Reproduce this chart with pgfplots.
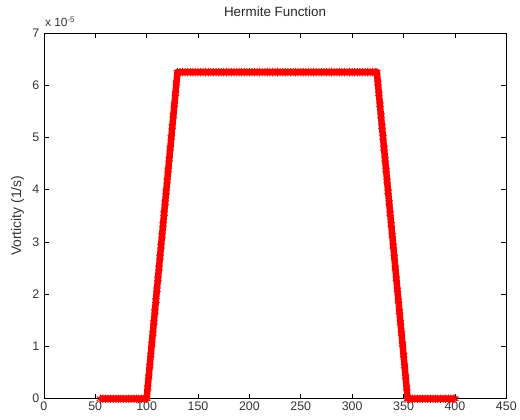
\documentclass[border=0pt]{standalone}
\usepackage{pgfplots}
\pgfplotsset{compat=1.18}
\usepackage{fontspec}
\setmainfont{Liberation Sans}

% Vorticity profile (in units of 1e-5 1/s)
\pgfplotstableread{
x y
55 0
57.5 0
60 0
62.5 0
65 0
67.5 0
70 0
72.5 0
75 0
77.5 0
80 0
82.5 0
85 0
87.5 0
90 0
92.5 0
95 0
97.5 0
100 0
101 0.208
102 0.417
103 0.625
104 0.833
105 1.042
106 1.250
107 1.458
108 1.667
109 1.875
110 2.083
111 2.292
112 2.500
113 2.708
114 2.917
115 3.125
116 3.333
117 3.542
118 3.750
119 3.958
120 4.167
121 4.375
122 4.583
123 4.792
124 5.000
125 5.208
126 5.417
127 5.625
128 5.833
129 6.042
130 6.25
132.5 6.25
135 6.25
137.5 6.25
140 6.25
142.5 6.25
145 6.25
147.5 6.25
150 6.25
152.5 6.25
155 6.25
157.5 6.25
160 6.25
162.5 6.25
165 6.25
167.5 6.25
170 6.25
172.5 6.25
175 6.25
177.5 6.25
180 6.25
182.5 6.25
185 6.25
187.5 6.25
190 6.25
192.5 6.25
195 6.25
197.5 6.25
200 6.25
202.5 6.25
205 6.25
207.5 6.25
210 6.25
212.5 6.25
215 6.25
217.5 6.25
220 6.25
222.5 6.25
225 6.25
227.5 6.25
230 6.25
232.5 6.25
235 6.25
237.5 6.25
240 6.25
242.5 6.25
245 6.25
247.5 6.25
250 6.25
252.5 6.25
255 6.25
257.5 6.25
260 6.25
262.5 6.25
265 6.25
267.5 6.25
270 6.25
272.5 6.25
275 6.25
277.5 6.25
280 6.25
282.5 6.25
285 6.25
287.5 6.25
290 6.25
292.5 6.25
295 6.25
297.5 6.25
300 6.25
302.5 6.25
305 6.25
307.5 6.25
310 6.25
312.5 6.25
315 6.25
317.5 6.25
320 6.25
322.5 6.25
324 6.25
325 6.042
326 5.833
327 5.625
328 5.417
329 5.208
330 5.000
331 4.792
332 4.583
333 4.375
334 4.167
335 3.958
336 3.750
337 3.542
338 3.333
339 3.125
340 2.917
341 2.708
342 2.500
343 2.292
344 2.083
345 1.875
346 1.667
347 1.458
348 1.250
349 1.042
350 0.833
351 0.625
352 0.417
353 0.208
354 0
356 0
358.5 0
361 0
363.5 0
366 0
368.5 0
371 0
373.5 0
376 0
378.5 0
381 0
383.5 0
386 0
388.5 0
391 0
393.5 0
396 0
398.5 0
400 0
}\vort

\begin{document}
\begin{tikzpicture}
\begin{axis}[
  scale only axis,
  width=464bp, height=367bp,
  xmin=0, xmax=450, ymin=0, ymax=7,
  xtick={0,50,...,450},
  ytick={0,1,...,7},
  tick align=inside,
  major tick length=5bp,
  axis line style={black, line width=0.6pt},
  tick style={black, line width=0.6pt},
  every tick label/.append style={font=\fontsize{12.5}{14}\selectfont, text=black!80},
  yticklabel style={xshift=-1bp},
  /pgf/number format/assume math mode=true,
  title={Hermite Function},
  title style={font=\fontsize{13.5}{15}\selectfont, text=black!85,
    at={(axis description cs:0.5,1)}, anchor=base, yshift=10bp},
  ylabel={Vorticity (1/s)},
  ylabel style={font=\fontsize{14}{16}\selectfont, text=black!80,
    at={(axis description cs:-0.0571,0.5)}, anchor=center},
  clip=false,
]
\addplot[color=red, line width=6.5bp, line join=round, mark=asterisk, mark size=4.2bp,
  mark options={line width=1bp}] table[x=x, y=y] {\vort};
\node[anchor=base west, inner sep=0pt, yshift=6bp, xshift=1bp,
  font=\fontsize{12}{14}\selectfont, text=black!80]
  at (rel axis cs:0,1) {x 10\textsuperscript{-5}};
\end{axis}
\path ([shift={(-44bp,-21bp)}]current axis.south west)
  rectangle ([shift={(12bp,33bp)}]current axis.north east);
\end{tikzpicture}
\end{document}
